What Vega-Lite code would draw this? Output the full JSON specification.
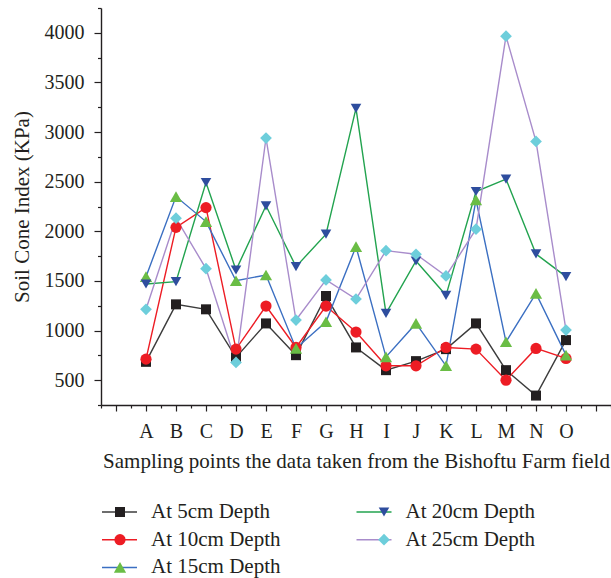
{
  "$schema": "https://vega.github.io/schema/vega-lite/v6.json",
  "width": 510,
  "height": 397,
  "autosize": {"type": "none"},
  "padding": {"left": 101, "top": 8, "right": 0, "bottom": 173},
  "background": "white",
  "config": {
    "view": {"stroke": null},
    "axis": {
      "labelFont": "Liberation Serif",
      "titleFont": "Liberation Serif",
      "labelFontSize": 20,
      "titleFontSize": 21,
      "titleFontWeight": "normal",
      "labelColor": "#231f20",
      "titleColor": "#231f20",
      "domainColor": "#231f20",
      "tickColor": "#231f20",
      "domainWidth": 1.4,
      "tickWidth": 1.2,
      "grid": false,
      "labelFlush": false,
      "labelOverlap": false
    }
  },
  "data": {
    "values": [
      {"p": "A", "d": "At 5cm Depth", "v": 685},
      {"p": "B", "d": "At 5cm Depth", "v": 1264},
      {"p": "C", "d": "At 5cm Depth", "v": 1214},
      {"p": "D", "d": "At 5cm Depth", "v": 730},
      {"p": "E", "d": "At 5cm Depth", "v": 1072},
      {"p": "F", "d": "At 5cm Depth", "v": 752},
      {"p": "G", "d": "At 5cm Depth", "v": 1348},
      {"p": "H", "d": "At 5cm Depth", "v": 830},
      {"p": "I", "d": "At 5cm Depth", "v": 601},
      {"p": "J", "d": "At 5cm Depth", "v": 692},
      {"p": "K", "d": "At 5cm Depth", "v": 813},
      {"p": "L", "d": "At 5cm Depth", "v": 1072},
      {"p": "M", "d": "At 5cm Depth", "v": 601},
      {"p": "N", "d": "At 5cm Depth", "v": 345},
      {"p": "O", "d": "At 5cm Depth", "v": 904},
      {"p": "A", "d": "At 10cm Depth", "v": 712},
      {"p": "B", "d": "At 10cm Depth", "v": 2040},
      {"p": "C", "d": "At 10cm Depth", "v": 2239},
      {"p": "D", "d": "At 10cm Depth", "v": 813},
      {"p": "E", "d": "At 10cm Depth", "v": 1247},
      {"p": "F", "d": "At 10cm Depth", "v": 830},
      {"p": "G", "d": "At 10cm Depth", "v": 1247},
      {"p": "H", "d": "At 10cm Depth", "v": 985},
      {"p": "I", "d": "At 10cm Depth", "v": 645},
      {"p": "J", "d": "At 10cm Depth", "v": 645},
      {"p": "K", "d": "At 10cm Depth", "v": 830},
      {"p": "L", "d": "At 10cm Depth", "v": 813},
      {"p": "M", "d": "At 10cm Depth", "v": 500},
      {"p": "N", "d": "At 10cm Depth", "v": 820},
      {"p": "O", "d": "At 10cm Depth", "v": 719},
      {"p": "A", "d": "At 15cm Depth", "v": 1543},
      {"p": "B", "d": "At 15cm Depth", "v": 2350},
      {"p": "C", "d": "At 15cm Depth", "v": 2098},
      {"p": "D", "d": "At 15cm Depth", "v": 1502},
      {"p": "E", "d": "At 15cm Depth", "v": 1560},
      {"p": "F", "d": "At 15cm Depth", "v": 820},
      {"p": "G", "d": "At 15cm Depth", "v": 1089},
      {"p": "H", "d": "At 15cm Depth", "v": 1846},
      {"p": "I", "d": "At 15cm Depth", "v": 735},
      {"p": "J", "d": "At 15cm Depth", "v": 1072},
      {"p": "K", "d": "At 15cm Depth", "v": 645},
      {"p": "L", "d": "At 15cm Depth", "v": 2317},
      {"p": "M", "d": "At 15cm Depth", "v": 887},
      {"p": "N", "d": "At 15cm Depth", "v": 1375},
      {"p": "O", "d": "At 15cm Depth", "v": 752},
      {"p": "A", "d": "At 20cm Depth", "v": 1469},
      {"p": "B", "d": "At 20cm Depth", "v": 1493},
      {"p": "C", "d": "At 20cm Depth", "v": 2492},
      {"p": "D", "d": "At 20cm Depth", "v": 1610},
      {"p": "E", "d": "At 20cm Depth", "v": 2257},
      {"p": "F", "d": "At 20cm Depth", "v": 1644},
      {"p": "G", "d": "At 20cm Depth", "v": 1971},
      {"p": "H", "d": "At 20cm Depth", "v": 3239},
      {"p": "I", "d": "At 20cm Depth", "v": 1173},
      {"p": "J", "d": "At 20cm Depth", "v": 1701},
      {"p": "K", "d": "At 20cm Depth", "v": 1355},
      {"p": "L", "d": "At 20cm Depth", "v": 2401},
      {"p": "M", "d": "At 20cm Depth", "v": 2526},
      {"p": "N", "d": "At 20cm Depth", "v": 1772},
      {"p": "O", "d": "At 20cm Depth", "v": 1543},
      {"p": "A", "d": "At 25cm Depth", "v": 1214},
      {"p": "B", "d": "At 25cm Depth", "v": 2132},
      {"p": "C", "d": "At 25cm Depth", "v": 1624},
      {"p": "D", "d": "At 25cm Depth", "v": 679},
      {"p": "E", "d": "At 25cm Depth", "v": 2940},
      {"p": "F", "d": "At 25cm Depth", "v": 1106},
      {"p": "G", "d": "At 25cm Depth", "v": 1510},
      {"p": "H", "d": "At 25cm Depth", "v": 1318},
      {"p": "I", "d": "At 25cm Depth", "v": 1805},
      {"p": "J", "d": "At 25cm Depth", "v": 1769},
      {"p": "K", "d": "At 25cm Depth", "v": 1550},
      {"p": "L", "d": "At 25cm Depth", "v": 2021},
      {"p": "M", "d": "At 25cm Depth", "v": 3966},
      {"p": "N", "d": "At 25cm Depth", "v": 2906},
      {"p": "O", "d": "At 25cm Depth", "v": 1005}
    ]
  },
  "transform": [
    {"calculate": "indexof(['A','B','C','D','E','F','G','H','I','J','K','L','M','N','O'], datum.p) + 1", "as": "idx"}
  ],
  "layer": [
    {
      "mark": {"type": "line", "strokeWidth": 1.4},
      "encoding": {
        "x": {
          "field": "idx", "type": "quantitative",
          "scale": {"domain": [-0.5, 16.5], "nice": false, "zero": false},
          "axis": {
            "orient": "bottom",
            "values": [0,1,2,3,4,5,6,7,8,9,10,11,12,13,14,15,16],
            "tickSize": 6,
            "labelPadding": 10,
            "labelExpr": "datum.value >= 1 && datum.value <= 15 ? ['A','B','C','D','E','F','G','H','I','J','K','L','M','N','O'][datum.value - 1] : ''",
            "title": "Sampling points the data taken from the Bishoftu Farm field",
            "titlePadding": 9
          }
        },
        "y": {
          "field": "v", "type": "quantitative",
          "scale": {"domain": [250, 4250], "nice": false, "zero": false},
          "axis": {
            "orient": "left",
            "values": [500,1000,1500,2000,2500,3000,3500,4000],
            "format": "d",
            "tickSize": 7,
            "labelPadding": 10,
            "title": "Soil Cone Index (KPa)",
            "titlePadding": 12
          }
        },
        "stroke": {
          "field": "d", "type": "nominal",
          "scale": {
            "domain": ["At 5cm Depth", "At 10cm Depth", "At 15cm Depth", "At 20cm Depth", "At 25cm Depth"],
            "range": ["#3c3c3c", "#ed1c24", "#3b6fc2", "#22a34f", "#a88ccb"]
          },
          "legend": {
            "orient": "none", "legendX": 0, "legendY": 494,
            "title": null, "columns": 2, "columnPadding": 74.5, "rowPadding": 6.7,
            "clipHeight": 20, "padding": 0,
            "values": ["At 5cm Depth", "At 10cm Depth", "At 15cm Depth", "At 20cm Depth", "At 25cm Depth"],
            "symbolType": "stroke", "symbolSize": 1225, "symbolStrokeWidth": 1.5,
            "labelFont": "Liberation Serif", "labelFontSize": 21, "labelColor": "#231f20",
            "labelOffset": 13, "labelLimit": 300
          }
        }
      }
    },
    {
      "mark": {"type": "point", "filled": true, "opacity": 1, "strokeWidth": 0},
      "encoding": {
        "x": {
          "field": "idx", "type": "quantitative",
          "scale": {"domain": [-0.5, 16.5], "nice": false, "zero": false},
          "axis": {
            "orient": "bottom",
            "values": [-0.5,0.5,1.5,2.5,3.5,4.5,5.5,6.5,7.5,8.5,9.5,10.5,11.5,12.5,13.5,14.5,15.5,16.5],
            "tickSize": 3, "labels": false, "domain": false, "title": null
          }
        },
        "y": {
          "field": "v", "type": "quantitative",
          "scale": {"domain": [250, 4250], "nice": false, "zero": false},
          "axis": {
            "orient": "left",
            "values": [250,750,1250,1750,2250,2750,3250,3750,4250],
            "tickSize": 3.5, "labels": false, "domain": false, "title": null
          }
        },
        "fill": {
          "field": "d", "type": "nominal",
          "scale": {
            "domain": ["At 5cm Depth", "At 20cm Depth", "At 10cm Depth", "At 25cm Depth", "At 15cm Depth"],
            "range": ["#231f20", "#2e4d9e", "#ed1c24", "#6dcedb", "#6abd45"]
          },
          "legend": {
            "orient": "none", "legendX": 0, "legendY": 494,
            "title": null, "columns": 2, "columnPadding": 205, "rowPadding": 6.7,
            "clipHeight": 20, "padding": 0,
            "values": ["At 5cm Depth", "At 10cm Depth", "At 15cm Depth", "At 20cm Depth", "At 25cm Depth"],
            "symbolSize": 100, "symbolStrokeWidth": 0, "symbolOffset": 8.5,
            "labelFontSize": 21, "labelOffset": 29, "labelExpr": "''"
          }
        },
        "shape": {
          "field": "d", "type": "nominal",
          "scale": {
            "domain": ["At 5cm Depth", "At 20cm Depth", "At 10cm Depth", "At 25cm Depth", "At 15cm Depth"],
            "range": ["square", "triangle-down", "circle", "diamond", "triangle-up"]
          },
          "legend": {
            "orient": "none", "legendX": 0, "legendY": 494,
            "title": null, "columns": 2, "columnPadding": 205, "rowPadding": 6.7,
            "clipHeight": 20, "padding": 0,
            "values": ["At 5cm Depth", "At 10cm Depth", "At 15cm Depth", "At 20cm Depth", "At 25cm Depth"],
            "symbolSize": 100, "symbolStrokeWidth": 0, "symbolOffset": 8.5,
            "labelFontSize": 21, "labelOffset": 29, "labelExpr": "''"
          }
        },
        "size": {
          "field": "d", "type": "nominal",
          "scale": {
            "domain": ["At 5cm Depth", "At 20cm Depth", "At 10cm Depth", "At 25cm Depth", "At 15cm Depth"],
            "range": [100, 150, 100, 150, 150]
          },
          "legend": {
            "orient": "none", "legendX": 0, "legendY": 494,
            "title": null, "columns": 2, "columnPadding": 205, "rowPadding": 6.7,
            "clipHeight": 20, "padding": 0,
            "values": ["At 5cm Depth", "At 10cm Depth", "At 15cm Depth", "At 20cm Depth", "At 25cm Depth"],
            "symbolStrokeWidth": 0, "symbolOffset": 8.5,
            "labelFontSize": 21, "labelOffset": 29, "labelExpr": "''"
          }
        }
      }
    }
  ],
  "resolve": {"axis": {"x": "independent", "y": "independent"}}
}
